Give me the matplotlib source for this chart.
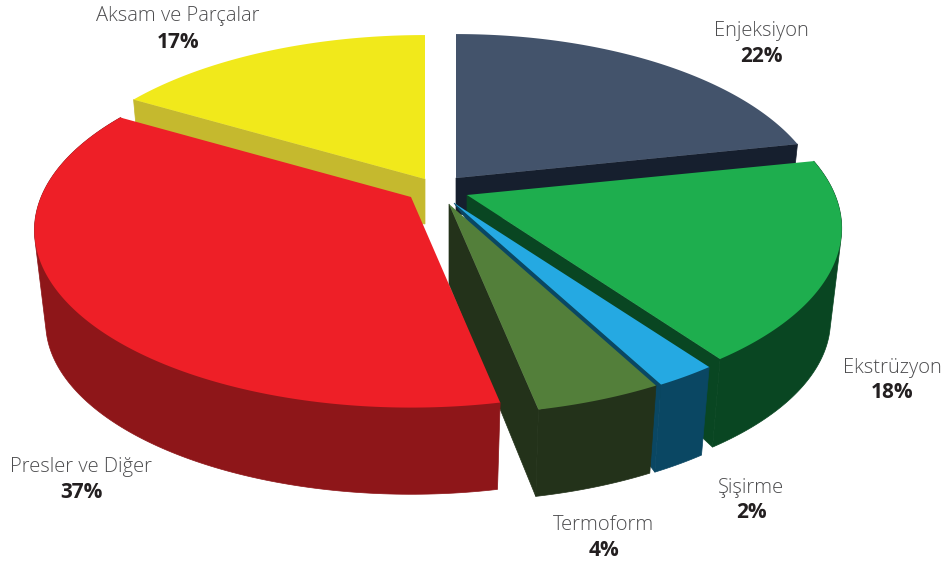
import numpy as np
import matplotlib
matplotlib.use("Agg")
import matplotlib.pyplot as plt
from matplotlib.patches import Polygon

# ---- data ----
categories = ["Enjeksiyon", "Ekstrüzyon", "Şişirme", "Termoform", "Presler ve Diğer", "Aksam ve Parçalar"]
percent_labels = [22, 18, 2, 4, 37, 17]
# slice sizes (the printed labels are rounded)
slice_shares = [21.7, 18.4, 2.2, 4.55, 36.65, 16.5]

# ---- style / layout ----
top_colors = ["#43536b", "#1eae4e", "#25a9e2", "#537f3a", "#ee1f27", "#f1e91b"]
side_colors = ["#161f2e", "#094622", "#0a4763", "#23321a", "#8e1619", "#c5b92e"]
apex_x = [456, 467, 454, 449, 411, 425]       # exploded slice tips
apex_y = [178, 195, 203, 204, 197, 179]
radius_scale = [0.977, 0.992, 1.0, 1.0, 0.997, 1.0]
cut_depth = [36, 24, 0, 80, 0, 45]            # visible depth of cut face at the tip
cut_at_start = [False, False, False, False, False, True]
has_outer_side = [False, True, True, True, True, False]
label_x = [761, 892, 751, 604, 81, 178]
name_y = [31, 368, 488, 525, 467, 16]
value_y = [56, 393, 513, 550, 492, 42]
draw_order = [5, 0, 1, 2, 3, 4]

RX, RY, PERSP = 371.0, 171.0, 0.188
SHRINK, DEPTH = 0.97, 93.0


def project(theta_deg, ax0, ay0, scale):
    t = np.radians(theta_deg)
    x, y = np.cos(t), np.sin(t)
    w = 1 + PERSP * y
    return np.column_stack([ax0 + scale * RX * x / w, ay0 - RY * y / w])


def lower(pts, ax0, ay0):
    apex = np.array([ax0, ay0])
    return apex + SHRINK * (pts - apex) + np.array([0, DEPTH])


def convex_hull(points):
    pts = sorted(map(tuple, points))

    def half(seq):
        out = []
        for p in seq:
            while len(out) >= 2 and ((out[-1][0] - out[-2][0]) * (p[1] - out[-2][1])
                                     - (out[-1][1] - out[-2][1]) * (p[0] - out[-2][0])) <= 0:
                out.pop()
            out.append(p)
        return out[:-1]

    return half(pts) + half(pts[::-1])


plt.rcParams["font.family"] = ["Open Sans", "DejaVu Sans"]
fig = plt.figure(figsize=(9.47, 5.68), dpi=100)
ax = fig.add_axes([0, 0, 1, 1])
ax.set_xlim(0, 947)
ax.set_ylim(568, 0)
ax.axis("off")

edges = 90 - 3.6 * np.concatenate([[0], np.cumsum(slice_shares)])

for i in draw_order:
    a0, a1 = edges[i], edges[i + 1]
    ax0, ay0 = apex_x[i], apex_y[i]
    thetas = np.linspace(a0, a1, 160)
    arc = project(thetas, ax0, ay0, radius_scale[i])
    low = lower(arc, ax0, ay0)
    z = 2 + draw_order.index(i)
    # cut face of the slice
    k = 0 if cut_at_start[i] else -1
    if i != 4:
        face = [(ax0, ay0), tuple(arc[k]), tuple(low[k]), (ax0, ay0 + cut_depth[i])]
        ax.add_patch(Polygon(face, closed=True, fc=side_colors[i], ec=side_colors[i], lw=0.5, zorder=z))
    # outer curved wall
    if has_outer_side[i]:
        wall = convex_hull(np.vstack([arc, low]))
        ax.add_patch(Polygon(wall, closed=True, fc=side_colors[i], ec=side_colors[i], lw=0.5, zorder=z))
    # top surface
    top = np.vstack([[ax0, ay0], arc])
    ax.add_patch(Polygon(top, closed=True, fc=top_colors[i], ec="none", zorder=z + 0.5))

for name, val, x, y1, y2 in zip(categories, percent_labels, label_x, name_y, value_y):
    ax.text(x, y1, name, ha="center", va="center", fontsize=14.5, fontweight="light", color="#4d4d4f")
    ax.text(x, y2, f"{val}%", ha="center", va="center", fontsize=15, fontweight="bold", color="#231f20")

fig.savefig("out.png", dpi=100, facecolor="white")
